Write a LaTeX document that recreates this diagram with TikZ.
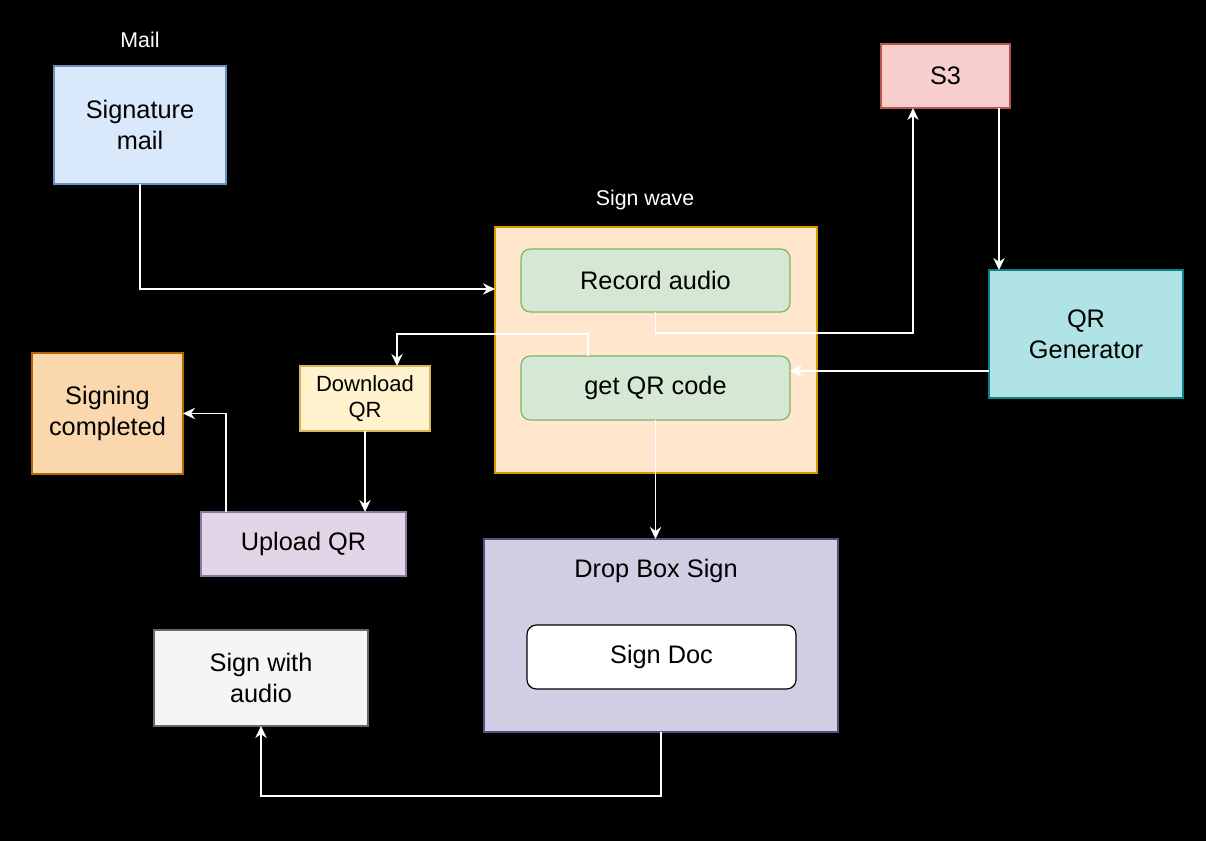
\documentclass[tikz,border=0pt]{standalone}
\usepackage{fontspec}
\setmainfont{Liberation Sans}
\usetikzlibrary{arrows.meta}
\definecolor{blueF}{HTML}{DAE8FC}\definecolor{blueD}{HTML}{6C8EBF}
\definecolor{orgF}{HTML}{FFE6CC}\definecolor{orgD}{HTML}{D79B00}
\definecolor{grnF}{HTML}{D5E8D4}\definecolor{grnD}{HTML}{82B366}
\definecolor{redF}{HTML}{F8CECC}\definecolor{redD}{HTML}{B85450}
\definecolor{cyaF}{HTML}{B0E3E6}\definecolor{cyaD}{HTML}{0E8088}
\definecolor{yelF}{HTML}{FFF2CC}\definecolor{yelD}{HTML}{D6B656}
\definecolor{tanF}{HTML}{FAD7AC}\definecolor{tanD}{HTML}{B46504}
\definecolor{purF}{HTML}{E1D5E7}\definecolor{purD}{HTML}{9673A6}
\definecolor{dbsF}{HTML}{D0CEE2}\definecolor{dbsD}{HTML}{56517E}
\definecolor{gryF}{HTML}{F5F5F5}\definecolor{gryD}{HTML}{666666}
\tikzset{
  box/.style={draw, line width=0.9pt, inner sep=0pt, outer sep=0pt, align=center,
    text=black, font=\fontsize{19}{23}\selectfont},
  rbox/.style={box, rounded corners=7pt},
  smallbox/.style={box, font=\fontsize{16.5}{20}\selectfont},
  lbl/.style={text=white, font=\fontsize{16}{19}\selectfont, inner sep=0pt},
  conn/.style={draw=white, line width=1.3pt,
    -{Stealth[length=9pt, width=8.5pt, inset=3pt]}},
}
\begin{document}
\begin{tikzpicture}[x=0.75pt, y=-0.75pt]
\useasboundingbox (0,0) rectangle (1206,841);
\fill[black] (0,0) rectangle (1206,841);

% labels
\node[lbl] (maillbl) at (140,40) {Mail};
\node[lbl] (swlbl) at (645,200) {Sign wave};

% nodes
\node[box, fill=blueF, draw=blueD, minimum width=172*0.75pt, minimum height=118*0.75pt]
  (mail) at (140,125) {Signature\\mail};
\node[box, fill=orgF, draw=orgD, minimum width=322*0.75pt, minimum height=246*0.75pt]
  (sw) at (656,350) {};
\node[rbox, fill=grnF, draw=grnD, minimum width=269*0.75pt, minimum height=63*0.75pt]
  (rec) at (655.5,280.5) {Record audio};
\node[rbox, fill=grnF, draw=grnD, minimum width=269*0.75pt, minimum height=64*0.75pt]
  (getqr) at (655.5,388) {get QR code};
\node[box, fill=redF, draw=redD, minimum width=129*0.75pt, minimum height=64*0.75pt]
  (s3) at (945.5,76) {S3};
\node[box, fill=cyaF, draw=cyaD, minimum width=194*0.75pt, minimum height=128*0.75pt]
  (qrg) at (1086,334) {QR\\Generator};
\node[smallbox, fill=yelF, draw=yelD, minimum width=130*0.75pt, minimum height=65*0.75pt]
  (dl) at (365,398.5) {Download\\QR};
\node[box, fill=tanF, draw=tanD, minimum width=151*0.75pt, minimum height=121*0.75pt]
  (done) at (107.5,413.5) {Signing\\completed};
\node[box, fill=purF, draw=purD, minimum width=205*0.75pt, minimum height=64*0.75pt]
  (up) at (303.5,544) {Upload QR};
\node[box, fill=dbsF, draw=dbsD, minimum width=354*0.75pt, minimum height=193*0.75pt]
  (dbs) at (661,635.5) {};
\node[box, draw=none, fill=none] (dbslbl) at (656,571) {Drop Box Sign};
\node[rbox, fill=white, draw=black, minimum width=269*0.75pt, minimum height=64*0.75pt]
  (doc) at (661.5,657) {Sign Doc};
\node[box, fill=gryF, draw=gryD, minimum width=214*0.75pt, minimum height=96*0.75pt]
  (swa) at (261,678) {Sign with\\audio};

% connectors
\draw[conn] (mail.south) |- (sw.west |- 0,289);
\draw[conn] (rec.south) |- (913,333) -- (s3.south -| 913,0);
\draw[conn] (s3.south -| 999,0) -- (qrg.north -| 999,0);
\draw[conn] (qrg.west |- 0,371) -- (getqr.east |- 0,371);
\draw[conn] (getqr.north -| 588,0) |- (397,334) -- (dl.north -| 397,0);
\draw[conn] (getqr.south) -- (dbs.north -| getqr.south);
\draw[conn] (dl.south) -- (up.north -| dl.south);
\draw[conn] (up.north -| 226,0) |- (done.east);
\draw[conn] (dbs.south) |- (261,796) -- (swa.south);
\end{tikzpicture}
\end{document}
